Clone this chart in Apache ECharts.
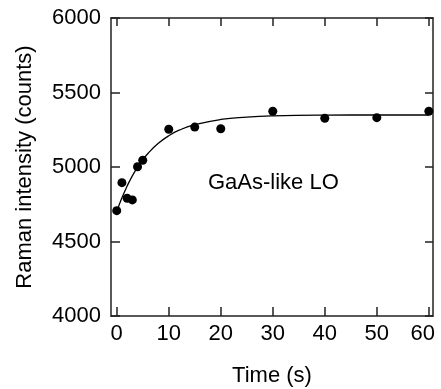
<!DOCTYPE html>
<html>
<head>
<meta charset="utf-8">
<script src="https://cdn.jsdelivr.net/npm/echarts@6/dist/echarts.min.js"></script>
<style>
  html, body { margin: 0; padding: 0; background: #fff; }
  #chart { width: 441px; height: 389px; }
</style>
</head>
<body>
<div id="chart"></div>
<script>
// measured points
const timeS = [0, 1, 2, 3, 4, 5, 10, 15, 20, 30, 40, 50, 60];
const intensity = [4707, 4895, 4790, 4779, 5002, 5045, 5253, 5268, 5257, 5374, 5327, 5331, 5374];

// fitted curve
const fitTime = [0, 1, 2, 3, 4, 5, 6, 8, 10, 12, 15, 20, 25, 30, 40, 50, 60];
const fitValue = [4700, 4793, 4872, 4940, 4998, 5048, 5091, 5159, 5210, 5247, 5284, 5319, 5335, 5343, 5348, 5349, 5349];

const xTicks = [0, 10, 20, 30, 40, 50, 60];

const font = "'Liberation Sans', Arial, Helvetica, sans-serif";
const ink = "#000";

const chart = echarts.init(document.getElementById("chart"));

const lineStyle = { color: "#222", width: 1.5 };

chart.setOption({
  animation: false,
  grid: { left: 111, right: 8, top: 18, bottom: 73, outerBoundsMode: "none" },
  xAxis: [
    {
      type: "value",
      min: -1.1,
      max: 60.8,
      name: "Time (s)",
      nameLocation: "middle",
      nameGap: 49,
      nameTextStyle: { fontFamily: font, fontSize: 22, color: ink },
      axisLine: { show: true, onZero: false, lineStyle },
      axisTick: { show: true, inside: true, length: 9, customValues: xTicks, lineStyle },
      axisLabel: {
        customValues: xTicks,
        fontFamily: font,
        fontSize: 22,
        color: ink,
        margin: 7,
        // last label sits a little left of its tick in the original
        formatter: (v) => (v === xTicks[xTicks.length - 1] ? "{last|" + v + "}" : String(v)),
        rich: { last: { fontFamily: font, fontSize: 22, color: ink, padding: [0, 12, 0, 0] } }
      },
      splitLine: { show: false }
    },
    {
      type: "value",
      position: "top",
      min: -1.1,
      max: 60.8,
      axisLine: { show: true, onZero: false, lineStyle },
      axisTick: { show: true, inside: true, length: 8, customValues: xTicks, lineStyle },
      axisLabel: { show: false },
      splitLine: { show: false }
    }
  ],
  yAxis: [
    {
      type: "value",
      min: 4000,
      max: 6000,
      interval: 500,
      name: "Raman intensity (counts)",
      nameLocation: "middle",
      nameGap: 75,
      nameTextStyle: { fontFamily: font, fontSize: 22, color: ink },
      axisLine: { show: true, onZero: false, lineStyle },
      axisTick: { show: true, inside: true, length: 9, lineStyle },
      axisLabel: { fontFamily: font, fontSize: 22, color: ink, margin: 10, formatter: (v) => String(v) },
      splitLine: { show: false }
    },
    {
      type: "value",
      position: "right",
      min: 4000,
      max: 6000,
      interval: 500,
      axisLine: { show: true, onZero: false, lineStyle },
      axisTick: { show: true, inside: true, length: 8, lineStyle },
      axisLabel: { show: false },
      splitLine: { show: false }
    }
  ],
  graphic: [
    {
      type: "text",
      left: 208,
      top: 172,
      style: { text: "GaAs-like LO", fontFamily: font, fontSize: 22, fill: ink }
    }
  ],
  series: [
    {
      type: "line",
      data: fitTime.map((t, i) => [t, fitValue[i]]),
      smooth: true,
      symbol: "none",
      lineStyle: { color: ink, width: 1.3 },
      z: 2
    },
    {
      type: "scatter",
      data: timeS.map((t, i) => [t, intensity[i]]),
      symbol: "circle",
      symbolSize: 9,
      itemStyle: { color: ink, opacity: 1 },
      z: 3
    }
  ]
});
</script>
</body>
</html>
